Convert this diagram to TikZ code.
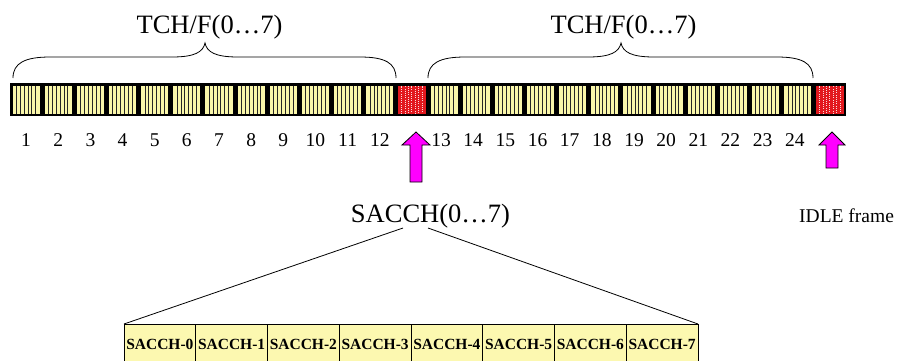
\documentclass[tikz,border=0pt]{standalone}
\usepackage{fontspec}
\setmainfont{Liberation Serif}
\usetikzlibrary{calc}
\definecolor{slotyellow}{RGB}{250,247,170}
\definecolor{idlered}{RGB}{226,24,30}
\definecolor{cellyellow}{RGB}{252,248,176}
\definecolor{pointer}{RGB}{255,0,255}
\tikzset{
  title/.style={font=\fontsize{26.5}{30}\selectfont, inner sep=0pt, anchor=base},
  numlab/.style={font=\fontsize{19.5}{22}\selectfont, inner sep=0pt, anchor=base},
  celllab/.style={font=\fontsize{15.5}{18}\selectfont\bfseries, inner sep=0pt, anchor=base},
  bracepath/.style={line width=0.8pt},
  pointerarrow/.style={fill=pointer, draw=black, line width=0.8pt, line join=miter},
  sacchcell/.style={fill=cellyellow, draw=black, line width=0.8pt, outer sep=0pt, inner sep=0pt,
                    minimum width=71.75pt, minimum height=40pt, anchor=north west},
  fanline/.style={line width=0.8pt},
}
\begin{document}
\begin{tikzpicture}[x=1pt,y=-1pt]
\useasboundingbox (0,0) rectangle (898,360);

% ---- 26-frame multiframe strip ----
% traffic frames: black border, pale yellow with vertical stripes
\foreach \i in {0,1,...,11,13,14,...,24} {
  \pgfmathsetmacro{\xa}{10+\i*32.154}
  \pgfmathsetmacro{\xb}{\xa+32.154}
  \fill[black] (\xa,83) rectangle (\xb,116);
  \fill[slotyellow] (\xa+2.5,85.5) rectangle (\xb-2.5,113.5);
  \foreach \k in {1,...,6}
    \draw[black!85, line width=0.9pt] (\xa+2.5+\k*3.879,85.5) -- (\xa+2.5+\k*3.879,113.5);
}
% SACCH and idle frames: red with speckled stripes
\foreach \i in {12,25} {
  \pgfmathsetmacro{\xa}{10+\i*32.154}
  \pgfmathsetmacro{\xb}{\xa+32.154}
  \fill[black] (\xa,83) rectangle (\xb,116);
  \fill[idlered] (\xa+2.5,85.5) rectangle (\xb-2.5,113.5);
  \foreach \k in {1,...,7}
    \draw[white!85!idlered, line width=0.9pt, dash pattern=on 0.9pt off 1.3pt, dash phase=\k*0.7pt]
      (\xa+2.5+\k*3.394,85.5) -- (\xa+2.5+\k*3.394,113.5);
}

% ---- frame numbers ----
\foreach \n in {1,...,12}
  \node[numlab] (n\n) at ({10+(\n-0.5)*32.154},146) {\n};
\foreach \n in {13,...,24}
  \node[numlab] (n\n) at ({10+(\n+0.5)*32.154-3},146) {\n};

% ---- braces and TCH/F labels ----
\draw[bracepath] (13,78) .. controls (13,63) and (25,57) .. (50,57) -- (172,57)
  .. controls (195,57) and (203,52) .. (205,43)
  .. controls (207,52) and (215,57) .. (238,57) -- (360,57)
  .. controls (385,57) and (396,63) .. (396,78);
\node[title] (tch1) at (209.5,33) {TCH/F(0…7)};

\draw[bracepath] (428,78) .. controls (428,63) and (440,57) .. (465,57) -- (588,57)
  .. controls (611,57) and (619,52) .. (621,43)
  .. controls (623,52) and (631,57) .. (654,57) -- (777,57)
  .. controls (802,57) and (813,63) .. (813,78);
\node[title] (tch2) at (623.5,33) {TCH/F(0…7)};

% ---- pointer arrows ----
\draw[pointerarrow] (416,132) -- (430,145) -- (422,145) -- (422,182) -- (410,182)
  -- (410,145) -- (402,145) -- cycle;
\draw[pointerarrow] (832,132) -- (845,145) -- (838,145) -- (838,168) -- (826,168)
  -- (826,145) -- (819,145) -- cycle;

% ---- labels under the arrows ----
\node[title] (sacch) at (430.5,222) {SACCH(0…7)};
\node[numlab, anchor=base west] (idle) at (799,222) {IDLE frame};

% ---- expanded SACCH block ----
\foreach \k in {0,...,7} {
  \node[sacchcell] (c\k) at ({124+\k*71.75},324) {};
  \node[celllab] (l\k) at ({124+(\k+0.5)*71.75},349.3) {SACCH-\k};
}
\coordinate (fanL) at (403,228);
\coordinate (fanR) at (428,228);
\draw[fanline] (fanL) -- (c0.north west);
\draw[fanline] (fanR) -- (c7.north east);
\end{tikzpicture}
\end{document}
